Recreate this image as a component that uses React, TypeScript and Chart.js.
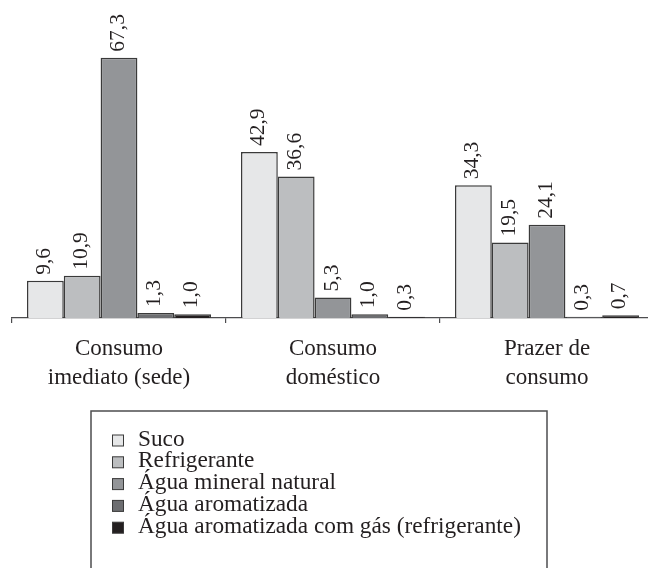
import React, { useEffect, useRef } from "react";
import { Chart, registerables } from "chart.js";

Chart.register(...registerables);

const categories: string[][] = [
  ["Consumo", "imediato (sede)"],
  ["Consumo", "doméstico"],
  ["Prazer de", "consumo"],
];
const seriesNames = [
  "Suco",
  "Refrigerante",
  "Água mineral natural",
  "Água aromatizada",
  "Água aromatizada com gás (refrigerante)",
];
const suco = [9.6, 42.9, 34.3];
const refrigerante = [10.9, 36.6, 19.5];
const aguaMineral = [67.3, 5.3, 24.1];
const aguaAromatizada = [1.3, 1.0, 0.3];
const aguaComGas = [1.0, 0.3, 0.7];
const seriesColors = ["#e6e7e8", "#bcbec0", "#939598", "#6d6e71", "#231f20"];

const FONT = "'Liberation Serif', 'Times New Roman', serif";
const TEXT = "#231f20";

const valueLabels = {
  id: "valueLabels",
  afterDatasetsDraw(chart: any) {
    const ctx = chart.ctx;
    ctx.save();
    ctx.fillStyle = TEXT;
    ctx.font = `21.5px ${FONT}`;
    ctx.textAlign = "left";
    ctx.textBaseline = "middle";
    chart.data.datasets.forEach((ds: any, di: number) => {
      const meta = chart.getDatasetMeta(di);
      meta.data.forEach((bar: any, i: number) => {
        const v = ds.data[i] as number;
        const txt = v.toFixed(1).replace(".", ",");
        ctx.save();
        ctx.translate(bar.x - 1, bar.y - 6);
        ctx.rotate(-Math.PI / 2);
        ctx.fillText(txt, 0, 0);
        ctx.restore();
      });
    });
    ctx.restore();
  },
};

const boxLegend = {
  id: "boxLegend",
  afterDraw(chart: any) {
    const ctx = chart.ctx;
    ctx.save();
    ctx.strokeStyle = "#4d4d4f";
    ctx.lineWidth = 1.5;
    ctx.strokeRect(91, 411, 456, 170);
    ctx.font = `23.3px ${FONT}`;
    ctx.textAlign = "left";
    ctx.textBaseline = "alphabetic";
    chart.data.datasets.forEach((ds: any, i: number) => {
      const base = 445.5 + i * 21.8;
      ctx.fillStyle = ds.backgroundColor;
      ctx.fillRect(112.5, base - 10.5, 11, 11);
      ctx.strokeStyle = "#3a3a3a";
      ctx.lineWidth = 1;
      ctx.strokeRect(112.5, base - 10.5, 11, 11);
      ctx.fillStyle = TEXT;
      ctx.fillText(ds.label, 138, base);
    });
    ctx.restore();
  },
};

export default function App() {
  const ref = useRef<HTMLCanvasElement>(null);
  useEffect(() => {
    if (!ref.current) return;
    const seriesData = [suco, refrigerante, aguaMineral, aguaAromatizada, aguaComGas];
    const chart = new Chart(ref.current, {
      type: "bar",
      data: {
        labels: categories,
        datasets: seriesNames.map((name, i) => ({
          label: name,
          data: seriesData[i],
          backgroundColor: seriesColors[i],
          borderColor: "#3a3a3a",
          borderWidth: 1.5,
          categoryPercentage: 0.86,
          barPercentage: 1,
        })),
      },
      options: {
        responsive: false,
        animation: false,
        devicePixelRatio: 1,
        layout: { padding: { left: 12, right: 0, top: 0, bottom: 0 } },
        plugins: {
          legend: { display: false },
          tooltip: { enabled: false },
        },
        scales: {
          x: {
            afterFit: (scale: any) => {
              scale.height = 250;
            },
            border: { display: true, color: "#4d4d4f", width: 1.2 },
            grid: {
              display: true,
              offset: true,
              drawOnChartArea: false,
              drawTicks: true,
              tickLength: 5,
              color: "#4d4d4f",
              lineWidth: 1.2,
            },
            ticks: {
              color: TEXT,
              font: { family: FONT, size: 23, lineHeight: 1.25 },
              padding: 12,
              maxRotation: 0,
              minRotation: 0,
              autoSkip: false,
            },
          },
          y: {
            display: false,
            min: 0,
            max: 82.2,
          },
        },
      },
      plugins: [valueLabels, boxLegend],
    });
    return () => chart.destroy();
  }, []);
  return (
    <div
      style={{
        position: "fixed",
        left: 0,
        top: 0,
        width: 648,
        height: 568,
        overflow: "hidden",
        background: "#fff",
      }}
    >
      <canvas ref={ref} width={654} height={568} style={{ display: "block" }} />
    </div>
  );
}
